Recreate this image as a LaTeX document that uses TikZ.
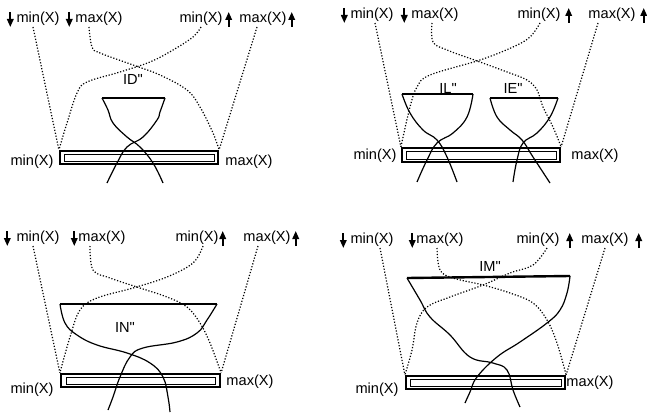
\documentclass[tikz,border=0pt]{standalone}
\usepackage{fontspec}
\setmainfont{Liberation Sans}
\usepackage{tikz}
\usetikzlibrary{arrows.meta}

\tikzset{
  lbl/.style={font=\fontsize{14.6}{17}\selectfont, inner sep=1pt},
  bound/.style={line width=1.2pt, dash pattern=on 1.2pt off 1.8pt},
  wire/.style={line width=1.2pt},
  rim/.style={line width=2.4pt},
  barbox/.style={draw, line width=2.2pt, minimum height=13pt, inner sep=0pt},
  barin/.style={line width=0.8pt},
  dirarrow/.style={-{Triangle[length=8pt,width=6.5pt]}, line width=1.8pt},
}

\begin{document}
\begin{tikzpicture}[x=1pt, y=-1pt]
    \useasboundingbox (0,0) rectangle (647,417);

    % ---------- panel ID" (top left)
    \node [lbl] (p1dmin) at (38,19) {min(X)};
    \node [lbl] (p1dmax) at (99,19) {max(X)};
    \node [lbl] (p1umin) at (201,19) {min(X)};
    \node [lbl] (p1umax) at (263,19) {max(X)};
    \node [barbox, minimum width=158pt] (p1bar) at (139,157.5) {};
    \node [lbl] (p1bmin) at (32,162) {min(X)};
    \node [lbl] (p1bmax) at (249,162) {max(X)};
    \node [lbl] (p1name) at (133,79) {ID\textquotedbl};
    \coordinate (p1rl) at (102,98);
    \coordinate (p1rr) at (165,98);

    \draw[dirarrow] ([xshift=-5pt,yshift=-1pt]p1dmin.north west) -- ([xshift=-5pt]p1dmin.south west);
    \draw[dirarrow] ([xshift=-5pt,yshift=-1pt]p1dmax.north west) -- ([xshift=-5pt]p1dmax.south west);
    \draw[dirarrow] ([xshift=5pt]p1umin.south east) -- ([xshift=5pt,yshift=-1pt]p1umin.north east);
    \draw[dirarrow] ([xshift=4pt]p1umax.south east) -- ([xshift=4pt,yshift=-1pt]p1umax.north east);

    \draw[barin] ([shift={(5pt,-4pt)}]p1bar.north west) rectangle ([shift={(-5pt,4pt)}]p1bar.south east);
    \draw[bound] ([xshift=-5pt]p1dmin.south) -- (p1bar.north west);
    \draw[bound] plot[smooth, tension=0.6] coordinates {([xshift=-10pt]p1dmax.south) (92,47) (100,53) (133,65) (160,75) (187,90) (200,107) (213,133) (p1bar.north east)};
    \draw[bound] plot[smooth, tension=0.6] coordinates {(p1umin.south) (193,37) (173,50) (150,62) (120,72) (87,82) (77,93) (67,123) (p1bar.north west)};
    \draw[bound] ([xshift=-6pt]p1umax.south) -- (p1bar.north east);

    \draw[rim] (p1rl) -- (p1rr);
    \draw[wire] plot[smooth, tension=0.7] coordinates {(p1rl) (108,110) (113,123) (127,137) (140,147) (153,163) (163,183)};
    \draw[wire] plot[smooth, tension=0.7] coordinates {(p1rr) (160,112) (157,120) (143,137) (127,147) (117,163) (107,183)};

    % ---------- panel IL" / IE" (top right)
    \node [lbl] (p2dmin) at (372,15) {min(X)};
    \node [lbl] (p2dmax) at (435,15) {max(X)};
    \node [lbl] (p2umin) at (539,15) {min(X)};
    \node [lbl] (p2umax) at (612,15) {max(X)};
    \node [barbox, minimum width=158pt, minimum height=14pt] (p2bar) at (481,155) {};
    \node [lbl] (p2bmin) at (375,156) {min(X)};
    \node [lbl] (p2bmax) at (595,156) {max(X)};
    \node [lbl] (p2nameL) at (448,88) {IL\textquotedbl};
    \node [lbl] (p2nameE) at (513,88) {IE\textquotedbl};
    \coordinate (p2ll) at (402,94);
    \coordinate (p2lr) at (473,94);
    \coordinate (p2el) at (490,98);
    \coordinate (p2er) at (558,98);

    \draw[dirarrow] ([xshift=-5pt,yshift=-1pt]p2dmin.north west) -- ([xshift=-5pt]p2dmin.south west);
    \draw[dirarrow] ([xshift=-6pt,yshift=-1pt]p2dmax.north west) -- ([xshift=-6pt]p2dmax.south west);
    \draw[dirarrow] ([xshift=7pt]p2umin.south east) -- ([xshift=7pt,yshift=-1pt]p2umin.north east);
    \draw[dirarrow] ([xshift=7pt]p2umax.south east) -- ([xshift=7pt,yshift=-1pt]p2umax.north east);

    \draw[barin] ([shift={(5pt,-4pt)}]p2bar.north west) rectangle ([shift={(-5pt,4pt)}]p2bar.south east);
    \draw[bound] ([xshift=3pt]p2dmin.south) -- (p2bar.north west);
    \draw[bound] plot[smooth, tension=0.6] coordinates {([xshift=-3pt]p2dmax.south) (433,42) (447,50) (480,62) (507,72) (527,80) (537,90) (543,107) (553,127) (p2bar.north east)};
    \draw[bound] plot[smooth, tension=0.6] coordinates {([xshift=1pt]p2umin.south) (530,37) (513,47) (480,60) (430,75) (417,87) (410,107) (p2bar.north west)};
    \draw[bound] ([xshift=-14pt]p2umax.south) -- (p2bar.north east);

    \draw[rim] (p2ll) -- (p2lr);
    \draw[wire] plot[smooth, tension=0.7] coordinates {(p2ll) (410,113) (423,130) (437,140) (447,157) (457,182)};
    \draw[wire] plot[smooth, tension=0.7] coordinates {(p2lr) (467,117) (453,133) (437,143) (427,160) (417,182)};
    \draw[rim] (p2el) -- (p2er);
    \draw[wire] plot[smooth, tension=0.7] coordinates {(p2el) (497,117) (510,130) (522,140) (533,157) (550,183)};
    \draw[wire] plot[smooth, tension=0.7] coordinates {(p2er) (550,117) (537,133) (523,143) (517,160) (513,182)};

    % ---------- panel IN" (bottom left)
    \node [lbl] (p3dmin) at (38,238) {min(X)};
    \node [lbl] (p3dmax) at (102,238) {max(X)};
    \node [lbl] (p3umin) at (197,238) {min(X)};
    \node [lbl] (p3umax) at (267,238) {max(X)};
    \node [barbox, minimum width=159pt] (p3bar) at (140.5,380.5) {};
    \node [lbl] (p3bmin) at (32,390) {min(X)};
    \node [lbl] (p3bmax) at (250,382) {max(X)};
    \node [lbl] (p3name) at (125,327) {IN\textquotedbl};
    \coordinate (p3rl) at (60,304);
    \coordinate (p3rr) at (217,304);

    \draw[dirarrow] ([xshift=-8pt,yshift=-1pt]p3dmin.north west) -- ([xshift=-8pt]p3dmin.south west);
    \draw[dirarrow] ([xshift=-3pt,yshift=-1pt]p3dmax.north west) -- ([xshift=-3pt]p3dmax.south west);
    \draw[dirarrow] ([xshift=3pt]p3umin.south east) -- ([xshift=3pt,yshift=-1pt]p3umin.north east);
    \draw[dirarrow] ([xshift=4pt]p3umax.south east) -- ([xshift=4pt,yshift=-1pt]p3umax.north east);

    \draw[barin] ([shift={(6pt,-4pt)}]p3bar.north west) rectangle ([shift={(-6pt,4pt)}]p3bar.south east);
    \draw[bound] ([xshift=-5pt]p3dmin.south) -- (p3bar.north west);
    \draw[bound] plot[smooth, tension=0.6] coordinates {([xshift=-12pt]p3dmax.south) (93,270) (110,278) (140,288) (167,297) (187,307) (200,323) (210,343) (p3bar.north east)};
    \draw[bound] plot[smooth, tension=0.6] coordinates {([xshift=6pt]p3umin.south) (193,263) (167,277) (133,288) (97,298) (80,310) (70,337) (p3bar.north west)};
    \draw[bound] ([xshift=-9pt]p3umax.south) -- (p3bar.north east);

    \draw[rim] (p3rl) -- (p3rr);
    \draw[wire] plot[smooth, tension=0.7] coordinates {(p3rl) (65,323) (77,335) (97,345) (127,353) (150,363) (163,377) (168,397) (170,412)};
    \draw[wire] plot[smooth, tension=0.7] coordinates {(p3rr) (207,320) (197,333) (177,342) (143,348) (130,357) (120,377) (113,397) (108,410)};

    % ---------- panel IM" (bottom right)
    \node [lbl] (p4dmin) at (372,240) {min(X)};
    \node [lbl] (p4dmax) at (440,240) {max(X)};
    \node [lbl] (p4umin) at (538,240) {min(X)};
    \node [lbl] (p4umax) at (605,240) {max(X)};
    \node [barbox, minimum width=159pt] (p4bar) at (485.5,382.5) {};
    \node [lbl] (p4bmin) at (377,390) {min(X)};
    \node [lbl] (p4bmax) at (590,383) {max(X)};
    \node [lbl] (p4name) at (490,266) {IM\textquotedbl};
    \coordinate (p4rl) at (407,278);
    \coordinate (p4rr) at (570,276);

    \draw[dirarrow] ([xshift=-6pt,yshift=-1pt]p4dmin.north west) -- ([xshift=-6pt]p4dmin.south west);
    \draw[dirarrow] ([xshift=-3pt,yshift=-1pt]p4dmax.north west) -- ([xshift=-3pt]p4dmax.south west);
    \draw[dirarrow] ([xshift=9pt]p4umin.south east) -- ([xshift=9pt,yshift=-1pt]p4umin.north east);
    \draw[dirarrow] ([xshift=9pt]p4umax.south east) -- ([xshift=9pt,yshift=-1pt]p4umax.north east);

    \draw[barin] ([shift={(5pt,-4pt)}]p4bar.north west) rectangle ([shift={(-5pt,4pt)}]p4bar.south east);
    \draw[bound] ([xshift=8pt]p4dmin.south) -- (p4bar.north west);
    \draw[bound] plot[smooth, tension=0.6] coordinates {([xshift=-3pt]p4dmax.south) (440,270) (453,278) (483,285) (510,293) (533,303) (547,320) (557,343) (p4bar.north east)};
    \draw[bound] plot[smooth, tension=0.6] coordinates {([xshift=9pt]p4umin.south) (533,265) (510,273) (483,285) (450,297) (427,307) (417,323) (412,350) (p4bar.north west)};
    \draw[bound] (p4umax.south) -- (p4bar.north east);

    \draw[rim] (p4rl) -- (p4rr);
    \draw[wire] plot[smooth, tension=0.7] coordinates {(p4rl) (420,300) (430,317) (450,335) (470,357) (493,363) (507,370) (513,390) (520,407)};
    \draw[wire] plot[smooth, tension=0.7] coordinates {(p4rr) (567,293) (560,310) (547,323) (520,342) (497,357) (477,377) (470,392) (465,403)};
\end{tikzpicture}
\end{document}
